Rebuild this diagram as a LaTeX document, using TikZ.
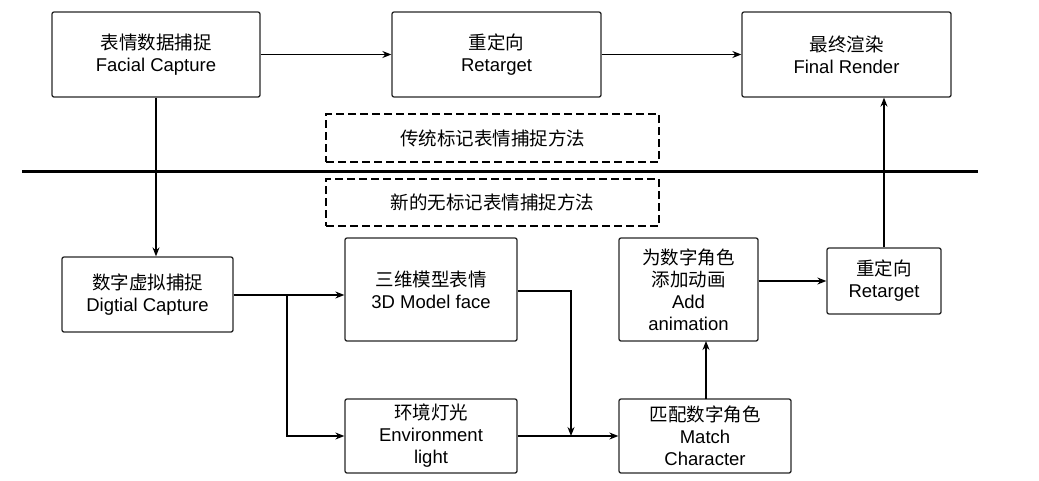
\documentclass[tikz,border=0pt]{standalone}
\usepackage{fontspec}
\setmainfont{Liberation Sans}
\newfontfamily\cjk{Noto Sans CJK SC}
\usetikzlibrary{arrows.meta}
\begin{document}
\begin{tikzpicture}[x=1pt,y=-1pt,
  box/.style={draw=black!85,line width=1.3pt,rounded corners=2pt,align=center,font=\fontsize{18.5}{22}\selectfont,inner sep=0pt},
  dbox/.style={draw=black,line width=2.5pt,dash pattern=on 8pt off 4pt,align=center,font=\cjk\fontsize{18.5}{22}\selectfont,inner sep=0pt},
  arr/.style={line width=1.3pt,-{Stealth[length=9pt,width=7pt]}},
  ln/.style={line width=1.3pt}]
\useasboundingbox (0,0) rectangle (1039,480);
\newcommand{\bx}[6]{\node[box,minimum width=#4-#2,minimum height=#5-#3] (#1) at ({(#2+#4)/2},{(#3+#5)/2}) {#6};}
\bx{fc}{52}{12}{260}{97}{{\cjk 表情数据捕捉}\\Facial Capture}
\bx{rt}{392}{12}{601}{97}{{\cjk 重定向}\\Retarget}
\bx{fr}{742}{12}{951}{97}{{\cjk 最终渲染}\\Final Render}
\node[dbox,minimum width=333,minimum height=48] (d1) at (492.5,138) {传统标记表情捕捉方法};
\node[dbox,minimum width=333,minimum height=47] (d2) at (492.5,202.5) {新的无标记表情捕捉方法};
\coordinate (l1) at (22,171); \coordinate (l2) at (978,171);
\draw[line width=3pt] (l1) -- (l2);
\bx{dc}{62}{257}{233}{332}{{\cjk 数字虚拟捕捉}\\Digtial Capture}
\bx{md}{345}{238}{517}{341}{{\cjk 三维模型表情}\\3D Model face}
\bx{el}{345}{399}{517}{473}{{\cjk 环境灯光}\\Environment\\light}
\bx{mc}{619}{399}{791}{473}{{\cjk 匹配数字角色}\\Match\\Character}
\bx{aa}{619}{238}{758}{341}{{\cjk 为数字角色}\\{\cjk 添加动画}\\Add\\animation}
\bx{rb}{827}{248}{941}{314}{{\cjk 重定向}\\Retarget}
\draw[arr] (fc.east) -- (rt.west);
\draw[arr] (rt.east) -- (fr.west);
\draw[arr] (fc.south) -- (fc.south|-dc.north);
\coordinate (br) at (287,295);
\draw[arr] (dc.east|-br) -- (md.west|-br);
\draw[arr] (br) |- (el.west);
\coordinate (j) at (571,436);
\draw[arr] (md.east|-0,291) -| (j);
\draw[arr] (el.east) -- (mc.west);
\draw[arr] (706,399) -- (706,341);
\draw[arr] (aa.east|-0,281) -- (rb.west|-0,281);
\draw[arr] (rb.north) -- (rb.north|-fr.south);
\end{tikzpicture}
\end{document}
